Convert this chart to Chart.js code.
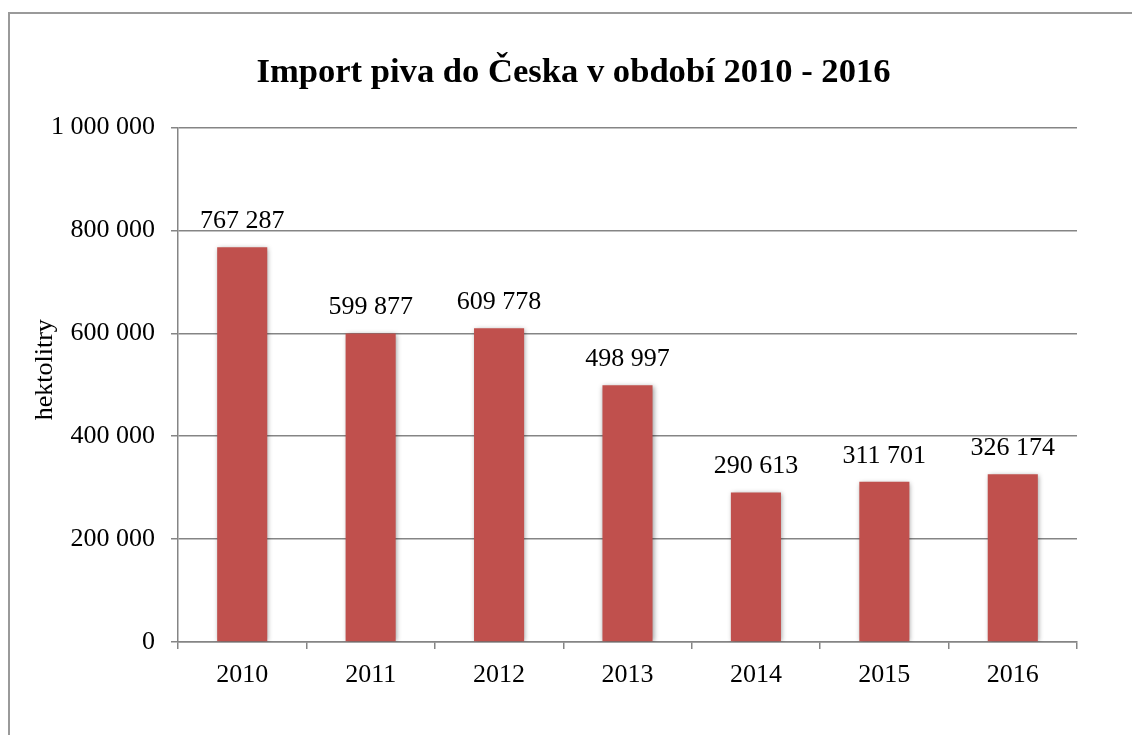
<!DOCTYPE html>
<html>
<head>
<meta charset="utf-8">
<script src="https://cdn.jsdelivr.net/npm/chart.js@4"></script>
<style>
  html, body { margin: 0; padding: 0; background: #fff; overflow: hidden; }
  #ramecek { position: absolute; left: 8px; top: 12px; width: 1200px; height: 800px;
             border-left: 2px solid #9a9a9a; border-top: 2px solid #9a9a9a; }
  #graf { position: absolute; left: 0; top: 0; }
</style>
</head>
<body>
<div id="ramecek"></div>
<canvas id="graf" width="1132" height="735"></canvas>
<script>
const roky = ["2010", "2011", "2012", "2013", "2014", "2015", "2016"]
const importPiva = [767287, 599877, 609778, 498997, 290613, 311701, 326174]
const osaY = [0, 200000, 400000, 600000, 800000, 1000000]
const nazevOsyY = 'hektolitry'

const pismo = "'Liberation Serif', 'Times New Roman', serif"
const seda = '#858585'

const cislo = (v) => String(v).replace(/\B(?=(\d{3})+(?!\d))/g, ' ')

// stin pod sloupci
const stin = {
    id: 'stin',
    beforeDatasetsDraw(chart) {
        const ctx = chart.ctx
        ctx.save()
        ctx.shadowColor = 'rgba(0,0,0,0.4)'
        ctx.shadowBlur = 5
        ctx.shadowOffsetX = 1
        ctx.shadowOffsetY = 1
    },
    afterDatasetsDraw(chart) {
        chart.ctx.restore()
    }
}

// nadpis posunout na stred cele plochy, ne jen grafu
const posunNadpisu = {
    id: 'posunNadpisu',
    afterLayout(chart) {
        const t = chart.titleBlock
        if (t) { t.left += 35; t.right += 35 }
    }
}

// popisky hodnot nad sloupci + nazev osy y
const popisky = {
    id: 'popisky',
    afterDraw(chart) {
        const ctx = chart.ctx
        const meta = chart.getDatasetMeta(0)
        ctx.save()
        ctx.font = '26px ' + pismo
        ctx.fillStyle = '#000'
        ctx.textAlign = 'center'
        ctx.textBaseline = 'alphabetic'
        meta.data.forEach((bar, i) => {
            ctx.fillText(cislo(chart.data.datasets[0].data[i]), bar.x, bar.y - 19)
        })
        ctx.restore()

        const a = chart.chartArea
        ctx.save()
        ctx.translate(45, (a.top + a.bottom) / 2 - 15)
        ctx.rotate(-Math.PI / 2)
        ctx.font = '26px ' + pismo
        ctx.fillStyle = '#000'
        ctx.textAlign = 'center'
        ctx.textBaseline = 'middle'
        ctx.fillText(nazevOsyY, 0, 0)
        ctx.restore()
    }
}

new Chart(document.getElementById('graf'), {
    type: 'bar',
    data: {
        labels: roky,
        datasets: [{
            label: nazevOsyY,
            data: importPiva,
            backgroundColor: '#C0504D',
            borderWidth: 0,
            barPercentage: 0.39,
            categoryPercentage: 1
        }]
    },
    options: {
        responsive: false,
        animation: false,
        devicePixelRatio: 1,
        layout: { padding: { left: 0, right: 55, top: 0, bottom: 0 } },
        plugins: {
            legend: { display: false },
            tooltip: { enabled: false },
            title: {
                display: true,
                text: 'Import piva do Česka v období 2010 - 2016',
                color: '#000',
                font: { family: pismo, size: 34.6, weight: 'bold' },
                padding: { top: 52, bottom: 34 }
            }
        },
        scales: {
            x: {
                grid: { display: true, drawOnChartArea: false, drawTicks: true, tickLength: 7, color: seda, lineWidth: 1.5 },
                border: { display: true, color: seda, width: 1.5 },
                ticks: { color: '#000', font: { family: pismo, size: 26 }, padding: 11 },
                afterFit(scale) { scale.height = 93 }
            },
            y: {
                min: 0,
                max: 1000000,
                afterBuildTicks(scale) { scale.ticks = osaY.map(v => ({ value: v })) },
                grid: { color: seda, lineWidth: 1.5, tickLength: 7 },
                border: { display: true, color: seda, width: 1.5 },
                ticks: {
                    color: '#000',
                    font: { family: pismo, size: 26 },
                    padding: 16,
                    callback: (v) => cislo(v)
                },
                afterFit(scale) { scale.width = 178 }
            }
        }
    },
    plugins: [stin, posunNadpisu, popisky]
})
</script>
</body>
</html>
